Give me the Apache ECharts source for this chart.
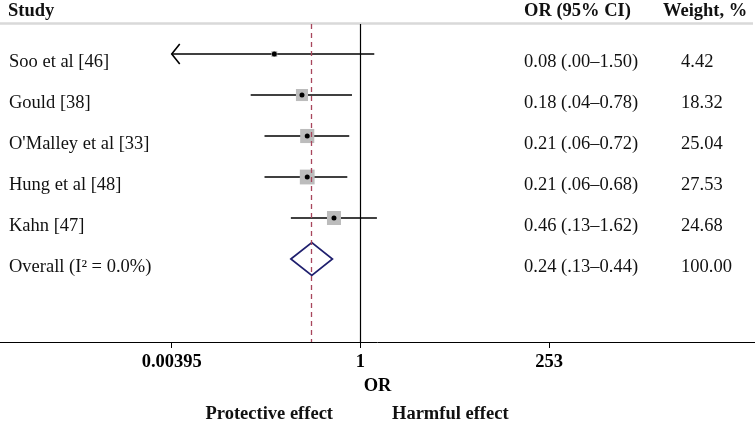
<!DOCTYPE html>
<html>
<head>
<meta charset="UTF-8">
<title>Forest plot</title>
<script src="https://cdn.jsdelivr.net/npm/echarts@6/dist/echarts.min.js"></script>
</head>
<body style="margin:0">
<div id="main" style="width:755px;height:422px"></div>
<script>
var studies = ['Soo et al [46]', 'Gould [38]', "O'Malley et al [33]", 'Hung et al [48]', 'Kahn [47]'];
var orVals = [0.08, 0.18, 0.21, 0.21, 0.46];
var loVals = [0.00, 0.04, 0.06, 0.06, 0.13];
var hiVals = [1.50, 0.78, 0.72, 0.68, 1.62];
var weights = [4.42, 18.32, 25.04, 27.53, 24.68];

var overallLabel = 'Overall (I\u00b2 = 0.0%)';
var overallOR = 0.24, overallLo = 0.13, overallHi = 0.44, overallWeight = 100.00;

var tickOR = [0.00395, 1, 253];
var tickLabels = ['0.00395', '1', '253'];

var serif = 'Liberation Serif, Times New Roman, serif';
var myChart = echarts.init(document.getElementById('main'));

function ciText(o, l, h) {
  return o.toFixed(2) + ' (' + l.toFixed(2).replace(/^0/, '') + '\u2013' + h.toFixed(2) + ')';
}

var lnTicks = tickOR.map(function (v) { return Math.log(v); });
var clipLo = lnTicks[0];

var rows = [];
studies.forEach(function (s, i) {
  var lo = loVals[i] > 0 ? Math.log(loVals[i]) : -Infinity;
  rows.push([i + 1, Math.log(orVals[i]), lo, Math.log(hiVals[i]), weights[i], 0]);
});
rows.push([studies.length + 1, Math.log(overallOR), Math.log(overallLo), Math.log(overallHi), overallWeight, 1]);

var labels = studies.concat([overallLabel]);
var ciTexts = studies.map(function (s, i) { return ciText(orVals[i], loVals[i], hiVals[i]); })
  .concat([ciText(overallOR, overallLo, overallHi)]);
var wTexts = weights.concat([overallWeight]).map(function (w) { return w.toFixed(2); });

function txt(x, y, s) {
  return {
    type: 'text', x: x, y: y,
    style: { text: s, font: '18.5px ' + serif, fill: '#111', textAlign: 'left', textVerticalAlign: 'middle' }
  };
}

function renderItem(params, api) {
  var idx = params.dataIndex;
  var row = api.value(0);
  var c = api.coord([api.value(1), row]);
  var lo = api.value(2);
  var clipped = !(lo > clipLo);
  var pLo = api.coord([clipped ? clipLo : lo, row]);
  var pHi = api.coord([api.value(3), row]);
  var y = c[1];
  var children = [];
  if (api.value(5) === 1) {
    var h = 16.5;
    children.push({
      type: 'polygon',
      shape: { points: [[pLo[0], y], [c[0], y - h], [pHi[0], y], [c[0], y + h]] },
      style: { fill: null, stroke: '#1f1f6e', lineWidth: 1.7 }
    });
  } else {
    children.push({
      type: 'line',
      shape: { x1: pLo[0], y1: y, x2: pHi[0], y2: y },
      style: { stroke: '#000', lineWidth: 1.6 }
    });
    if (clipped) {
      children.push({
        type: 'polyline',
        shape: { points: [[pLo[0] + 8, y - 10], [pLo[0], y], [pLo[0] + 8, y + 10]] },
        style: { stroke: '#000', lineWidth: 1.6, fill: null }
      });
    }
    var s = Math.sqrt(api.value(4)) * 2.82;
    children.push({
      type: 'rect',
      shape: { x: c[0] - s / 2, y: y - s / 2, width: s, height: s },
      style: { fill: '#bcbcbc' }
    });
    children.push({
      type: 'circle',
      shape: { cx: c[0], cy: y, r: 2.5 },
      style: { fill: '#000' }
    });
  }
  children.push(txt(9, y + 8, labels[idx]));
  children.push(txt(524, y + 8, ciTexts[idx]));
  children.push(txt(681, y + 8, wTexts[idx]));
  return { type: 'group', children: children };
}

var headStyle = { font: 'bold 18.5px ' + serif, fill: '#111', textVerticalAlign: 'middle' };

var option = {
  animation: false,
  grid: { left: 0, right: 0, top: 24, bottom: 80 },
  xAxis: {
    type: 'value',
    min: -10.57,
    max: 11.57,
    splitLine: { show: false },
    axisLine: { lineStyle: { color: '#000', width: 1 } },
    axisTick: { customValues: lnTicks, length: 6, lineStyle: { color: '#000' } },
    axisLabel: {
      customValues: lnTicks,
      margin: 11,
      color: '#000',
      fontFamily: serif,
      fontWeight: 'bold',
      fontSize: 18.5,
      formatter: function (v) {
        for (var i = 0; i < lnTicks.length; i++) {
          if (Math.abs(lnTicks[i] - v) < 1e-6) return tickLabels[i];
        }
        return '';
      }
    },
    name: 'OR',
    nameLocation: 'middle',
    nameGap: 32,
    nameTextStyle: { color: '#000', fontFamily: serif, fontWeight: 'bold', fontSize: 18.5 }
  },
  yAxis: { type: 'value', inverse: true, min: 0.268, max: 8.024, show: false },
  graphic: [
    { type: 'line', shape: { x1: 0, y1: 23.5, x2: 753, y2: 23.5 }, style: { stroke: '#d9d9d9', lineWidth: 2.5 } },
    { type: 'text', x: 8, y: 11, style: Object.assign({ text: 'Study' }, headStyle) },
    { type: 'text', x: 524, y: 11, style: Object.assign({ text: 'OR (95% CI)' }, headStyle) },
    { type: 'text', x: 663, y: 11, style: Object.assign({ text: 'Weight, %' }, headStyle) },
    { type: 'text', x: 333, y: 414, style: Object.assign({ text: 'Protective effect', textAlign: 'right' }, headStyle) },
    { type: 'text', x: 392, y: 414, style: Object.assign({ text: 'Harmful effect', textAlign: 'left' }, headStyle) }
  ],
  series: [
    {
      type: 'line',
      data: [],
      silent: true,
      markLine: {
        silent: true,
        symbol: 'none',
        label: { show: false },
        data: [
          { xAxis: 0, lineStyle: { color: '#000', width: 1.2, type: 'solid' } },
          { xAxis: Math.log(overallOR), lineStyle: { color: '#a8465c', width: 1.3, type: [5, 4] } }
        ]
      }
    },
    {
      type: 'custom',
      renderItem: renderItem,
      encode: { x: [1, 2, 3], y: 0 },
      data: rows,
      z: 3
    }
  ]
};
myChart.setOption(option);
</script>
</body>
</html>
